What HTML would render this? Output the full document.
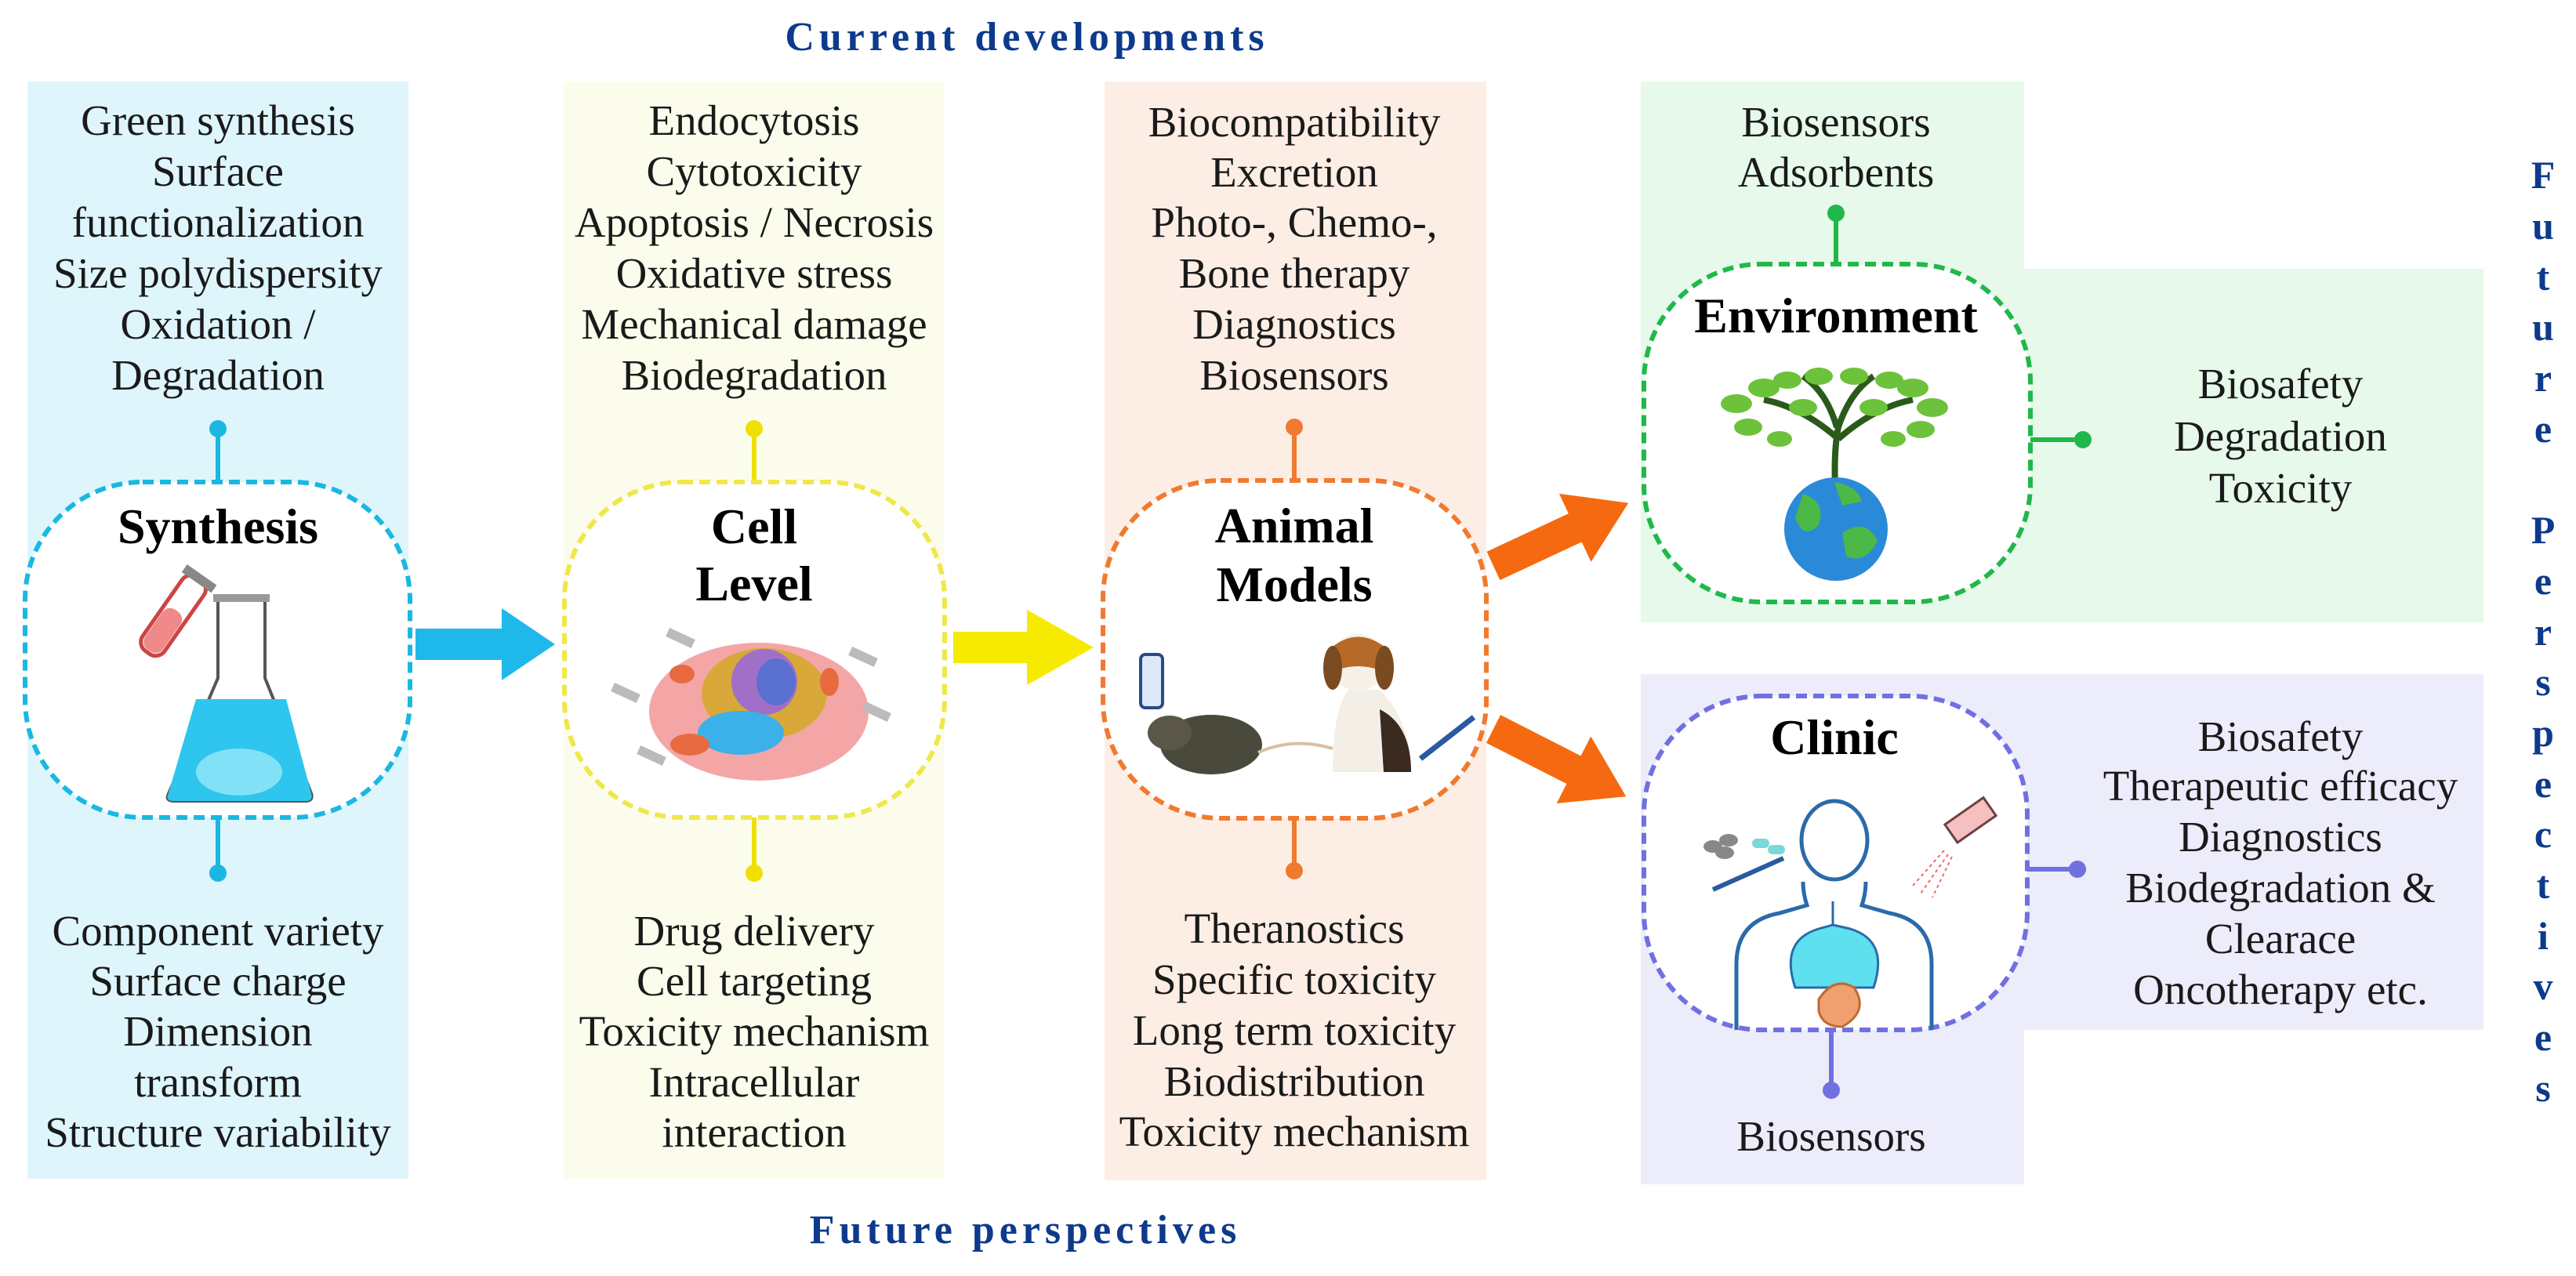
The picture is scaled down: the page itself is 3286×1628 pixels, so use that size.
<!DOCTYPE html>
<html><head><meta charset="utf-8"><style>
html,body{margin:0;padding:0;background:#fff;}
svg{display:block;}
text{font-family:"Liberation Serif",serif;}
.t{font-size:55px;fill:#1a1a1a;text-anchor:middle;}
.b{font-size:64px;font-weight:bold;fill:#000;text-anchor:middle;}
.h{font-size:52px;font-weight:bold;fill:#0d3a8c;text-anchor:middle;letter-spacing:6px;}
.v{font-size:50px;font-weight:bold;fill:#0d3a8c;text-anchor:middle;}
</style></head><body>
<svg width="3286" height="1628" viewBox="0 0 3286 1628" xmlns="http://www.w3.org/2000/svg">
<rect x="35" y="104" width="486" height="1400" fill="#def5fc"/>
<rect x="719" y="104" width="486" height="1400" fill="#fcfcec"/>
<rect x="1409" y="104" width="487" height="1402" fill="#fdeee5"/>
<path d="M2093 104 H2582 V343 H3168 V794 H2093 Z" fill="#e6f9ea"/>
<path d="M2093 860 H3168 V1314 H2582 V1511 H2093 Z" fill="#ececfb"/>

<text class="h" x="1310" y="64">Current developments</text>
<text class="h" x="1308" y="1586">Future perspectives</text>

<g>
<text class="v" x="3244" y="240">F</text><text class="v" x="3244" y="305">u</text><text class="v" x="3244" y="370">t</text><text class="v" x="3244" y="434">u</text><text class="v" x="3244" y="499">r</text><text class="v" x="3244" y="564">e</text>
<text class="v" x="3244" y="693">P</text><text class="v" x="3244" y="758">e</text><text class="v" x="3244" y="823">r</text><text class="v" x="3244" y="887">s</text><text class="v" x="3244" y="952">p</text><text class="v" x="3244" y="1017">e</text><text class="v" x="3244" y="1081">c</text><text class="v" x="3244" y="1146">t</text><text class="v" x="3244" y="1211">i</text><text class="v" x="3244" y="1275">v</text><text class="v" x="3244" y="1340">e</text><text class="v" x="3244" y="1405">s</text>
</g>

<g>
<text class="t" x="278" y="172">Green synthesis</text>
<text class="t" x="278" y="237">Surface</text>
<text class="t" x="278" y="302">functionalization</text>
<text class="t" x="278" y="367">Size polydispersity</text>
<text class="t" x="278" y="432">Oxidation /</text>
<text class="t" x="278" y="497">Degradation</text>
<text class="t" x="278" y="1206">Component variety</text>
<text class="t" x="278" y="1270">Surface charge</text>
<text class="t" x="278" y="1334">Dimension</text>
<text class="t" x="278" y="1399">transform</text>
<text class="t" x="278" y="1463">Structure variability</text>
</g>
<g stroke="#1ab8e0" stroke-width="6" fill="#1ab8e0">
<line x1="278" y1="547" x2="278" y2="615"/><circle cx="278" cy="547" r="11" stroke="none"/>
<line x1="278" y1="1043" x2="278" y2="1114"/><circle cx="278" cy="1114" r="11" stroke="none"/>
</g>
<rect x="32" y="615" width="491" height="428" rx="150" fill="#fff" stroke="#1ab8e0" stroke-width="6" stroke-dasharray="14 8"/>
<text class="b" x="278" y="693">Synthesis</text>
<g transform="rotate(35 225 785)"><rect x="205" y="730" width="34" height="115" rx="14" fill="#fff" stroke="#c44" stroke-width="5"/><rect x="208" y="780" width="28" height="62" rx="12" fill="#f08a8a"/><rect x="199" y="724" width="46" height="12" fill="#888"/></g>
<path d="M278 765 V865 L214 1015 Q212 1022 222 1022 H390 Q400 1022 397 1012 L338 865 V765" fill="#fff" stroke="#555" stroke-width="4"/>
<rect x="272" y="758" width="72" height="10" fill="#999"/>
<path d="M250 892 H365 L397 1012 Q400 1022 390 1022 H222 Q212 1022 214 1015 Z" fill="#2ec5ee"/>
<ellipse cx="305" cy="985" rx="55" ry="30" fill="#a8ecfb" opacity="0.7"/>

<polygon points="530,802 640,802 640,776 708,822 640,868 640,842 530,842" fill="#1fb8ea"/>

<g>
<text class="t" x="962" y="172">Endocytosis</text>
<text class="t" x="962" y="237">Cytotoxicity</text>
<text class="t" x="962" y="302">Apoptosis / Necrosis</text>
<text class="t" x="962" y="367">Oxidative stress</text>
<text class="t" x="962" y="432">Mechanical damage</text>
<text class="t" x="962" y="497">Biodegradation</text>
<text class="t" x="962" y="1206">Drug delivery</text>
<text class="t" x="962" y="1270">Cell targeting</text>
<text class="t" x="962" y="1334">Toxicity mechanism</text>
<text class="t" x="962" y="1399">Intracellular</text>
<text class="t" x="962" y="1463">interaction</text>
</g>
<g stroke="#efe000" stroke-width="6" fill="#efe000">
<line x1="962" y1="547" x2="962" y2="615"/><circle cx="962" cy="547" r="11" stroke="none"/>
<line x1="962" y1="1043" x2="962" y2="1114"/><circle cx="962" cy="1114" r="11" stroke="none"/>
</g>
<rect x="720" y="615" width="485" height="428" rx="150" fill="#fff" stroke="#eee84a" stroke-width="6" stroke-dasharray="14 8"/>
<text class="b" x="962" y="693">Cell</text>
<text class="b" x="962" y="766">Level</text>
<ellipse cx="968" cy="908" rx="140" ry="88" fill="#f4a6a6"/>
<ellipse cx="975" cy="885" rx="80" ry="58" fill="#d8a83a"/>
<ellipse cx="975" cy="870" rx="42" ry="42" fill="#a070c8"/>
<ellipse cx="990" cy="870" rx="25" ry="30" fill="#5a70d0"/>
<ellipse cx="945" cy="935" rx="55" ry="28" fill="#3cb0e8"/>
<ellipse cx="880" cy="950" rx="25" ry="14" fill="#e86a40"/>
<ellipse cx="870" cy="860" rx="16" ry="12" fill="#e86a40"/>
<ellipse cx="1058" cy="870" rx="12" ry="18" fill="#e86a40"/>
<g fill="#bbb"><rect x="850" y="808" width="36" height="12" transform="rotate(25 868 814)"/><rect x="780" y="878" width="36" height="12" transform="rotate(25 798 884)"/><rect x="813" y="958" width="36" height="12" transform="rotate(25 831 964)"/><rect x="1083" y="832" width="36" height="12" transform="rotate(25 1101 838)"/><rect x="1100" y="902" width="36" height="12" transform="rotate(25 1118 908)"/></g>

<polygon points="1216,806 1310,806 1310,778 1395,826 1310,874 1310,846 1216,846" fill="#f5ea00"/>

<g>
<text class="t" x="1651" y="174">Biocompatibility</text>
<text class="t" x="1651" y="238">Excretion</text>
<text class="t" x="1651" y="302">Photo-, Chemo-,</text>
<text class="t" x="1651" y="367">Bone therapy</text>
<text class="t" x="1651" y="432">Diagnostics</text>
<text class="t" x="1651" y="497">Biosensors</text>
<text class="t" x="1651" y="1203">Theranostics</text>
<text class="t" x="1651" y="1268">Specific toxicity</text>
<text class="t" x="1651" y="1333">Long term toxicity</text>
<text class="t" x="1651" y="1398">Biodistribution</text>
<text class="t" x="1651" y="1462">Toxicity mechanism</text>
</g>
<g stroke="#f07a30" stroke-width="6" fill="#f07a30">
<line x1="1651" y1="545" x2="1651" y2="613"/><circle cx="1651" cy="545" r="11" stroke="none"/>
<line x1="1651" y1="1044" x2="1651" y2="1111"/><circle cx="1651" cy="1111" r="11" stroke="none"/>
</g>
<rect x="1407" y="613" width="489" height="431" rx="150" fill="#fff" stroke="#f07a30" stroke-width="6" stroke-dasharray="14 8"/>
<text class="b" x="1651" y="692">Animal</text>
<text class="b" x="1651" y="767">Models</text>
<rect x="1455" y="835" width="28" height="68" rx="6" fill="#dde9f8" stroke="#2a4a8a" stroke-width="4"/>
<ellipse cx="1545" cy="950" rx="65" ry="38" fill="#4a4a3c"/>
<ellipse cx="1492" cy="935" rx="28" ry="22" fill="#5a5648"/>
<path d="M1605 960 Q1650 940 1700 955" stroke="#d8c0a0" stroke-width="4" fill="none"/>
<path d="M1700 985 Q1700 905 1720 880 L1760 880 Q1800 920 1800 985 Z" fill="#f4efe6"/>
<path d="M1760 905 Q1800 925 1800 985 H1765 Z" fill="#3a2a20"/>
<circle cx="1732" cy="845" r="36" fill="#f6f0e6"/>
<path d="M1700 825 Q1732 800 1766 825 L1760 855 Q1732 845 1705 855 Z" fill="#b56a2a"/>
<ellipse cx="1700" cy="852" rx="12" ry="28" fill="#7a4a20"/>
<ellipse cx="1766" cy="852" rx="12" ry="28" fill="#7a4a20"/>
<line x1="1812" y1="968" x2="1880" y2="915" stroke="#2a5aa0" stroke-width="7"/>

<g fill="#f56a10">
<g transform="translate(1905 722) rotate(-25)"><polygon points="0,-20 115,-20 115,-48 190,0 115,48 115,20 0,20"/></g>
<g transform="translate(1905 930) rotate(27)"><polygon points="0,-20 115,-20 115,-48 190,0 115,48 115,20 0,20"/></g>
</g>

<text class="t" x="2342" y="174">Biosensors</text>
<text class="t" x="2342" y="238">Adsorbents</text>
<g stroke="#20b84a" stroke-width="6" fill="#20b84a">
<line x1="2342" y1="272" x2="2342" y2="337"/><circle cx="2342" cy="272" r="11" stroke="none"/>
<line x1="2590" y1="561" x2="2657" y2="561"/><circle cx="2657" cy="561" r="11" stroke="none"/>
</g>
<rect x="2097" y="337" width="493" height="431" rx="150" fill="#fff" stroke="#20b84a" stroke-width="6" stroke-dasharray="14 8"/>
<text class="b" x="2342" y="424">Environment</text>
<path d="M2342 640 Q2338 580 2345 545 M2345 560 Q2300 520 2250 510 M2345 560 Q2390 520 2440 510 M2343 545 Q2330 500 2300 480 M2345 545 Q2360 500 2390 480" stroke="#2a5a1a" stroke-width="8" fill="none"/>
<g fill="#6cc23a">
<ellipse cx="2215" cy="515" rx="20" ry="12"/><ellipse cx="2250" cy="495" rx="20" ry="12"/><ellipse cx="2230" cy="545" rx="18" ry="11"/><ellipse cx="2280" cy="485" rx="18" ry="11"/><ellipse cx="2300" cy="520" rx="18" ry="11"/><ellipse cx="2320" cy="480" rx="18" ry="11"/><ellipse cx="2365" cy="480" rx="18" ry="11"/><ellipse cx="2390" cy="520" rx="18" ry="11"/><ellipse cx="2410" cy="485" rx="18" ry="11"/><ellipse cx="2440" cy="495" rx="20" ry="12"/><ellipse cx="2465" cy="520" rx="20" ry="12"/><ellipse cx="2450" cy="548" rx="18" ry="11"/><ellipse cx="2270" cy="560" rx="16" ry="10"/><ellipse cx="2415" cy="560" rx="16" ry="10"/>
</g>
<circle cx="2342" cy="675" r="66" fill="#2a8ad8"/>
<path d="M2300 630 Q2330 640 2320 670 Q2300 690 2290 660 Z M2350 680 Q2380 660 2395 690 Q2380 720 2355 710 Z M2340 615 Q2370 620 2375 640 L2350 645 Z" fill="#4cb848"/>
<text class="t" x="2909" y="508">Biosafety</text>
<text class="t" x="2909" y="575">Degradation</text>
<text class="t" x="2909" y="641">Toxicity</text>

<g stroke="#7070e0" stroke-width="6" fill="#7070e0">
<line x1="2586" y1="1109" x2="2650" y2="1109"/><circle cx="2650" cy="1109" r="11" stroke="none"/>
<line x1="2336" y1="1314" x2="2336" y2="1391"/><circle cx="2336" cy="1391" r="11" stroke="none"/>
</g>
<rect x="2097" y="888" width="489" height="426" rx="150" fill="#fff" stroke="#7070e0" stroke-width="6" stroke-dasharray="14 8"/>
<text class="b" x="2340" y="962">Clinic</text>
<path d="M2215 1314 V1230 Q2215 1175 2270 1165 L2305 1155 Q2300 1140 2300 1125 M2380 1125 Q2380 1140 2375 1155 L2410 1165 Q2464 1175 2464 1230 V1314" stroke="#2a6aaa" stroke-width="5" fill="none"/>
<ellipse cx="2340" cy="1072" rx="42" ry="50" fill="none" stroke="#2a6aaa" stroke-width="5"/>
<path d="M2338 1150 V1180 M2290 1260 Q2270 1200 2320 1185 L2338 1180 L2360 1185 Q2410 1200 2390 1260 Z" fill="#5ee0ee" stroke="#2a6aaa" stroke-width="3"/>
<path d="M2320 1275 Q2340 1245 2365 1260 Q2385 1290 2350 1310 Q2325 1310 2320 1290 Z" fill="#f0a070" stroke="#c06a30" stroke-width="3"/>
<g fill="#888"><ellipse cx="2185" cy="1080" rx="12" ry="8"/><ellipse cx="2205" cy="1072" rx="12" ry="8"/><ellipse cx="2200" cy="1088" rx="12" ry="8"/></g>
<g fill="#7ad8d8"><rect x="2235" y="1070" width="22" height="12" rx="6"/><rect x="2255" y="1078" width="22" height="12" rx="6"/></g>
<line x1="2185" y1="1135" x2="2275" y2="1095" stroke="#2a5aa0" stroke-width="6"/>
<g transform="rotate(-35 2510 1050)"><rect x="2485" y="1035" width="60" height="28" fill="#f4c0c0" stroke="#704040" stroke-width="3"/></g>
<path d="M2480 1085 L2440 1130 M2485 1090 L2450 1140 M2490 1093 L2465 1145" stroke="#f06a6a" stroke-width="2" stroke-dasharray="4 4"/>
<text class="t" x="2909" y="958">Biosafety</text>
<text class="t" x="2909" y="1021">Therapeutic efficacy</text>
<text class="t" x="2909" y="1086">Diagnostics</text>
<text class="t" x="2909" y="1151">Biodegradation &amp;</text>
<text class="t" x="2909" y="1216">Clearace</text>
<text class="t" x="2909" y="1281">Oncotherapy etc.</text>
<text class="t" x="2336" y="1468">Biosensors</text>
</svg>
</body></html>
